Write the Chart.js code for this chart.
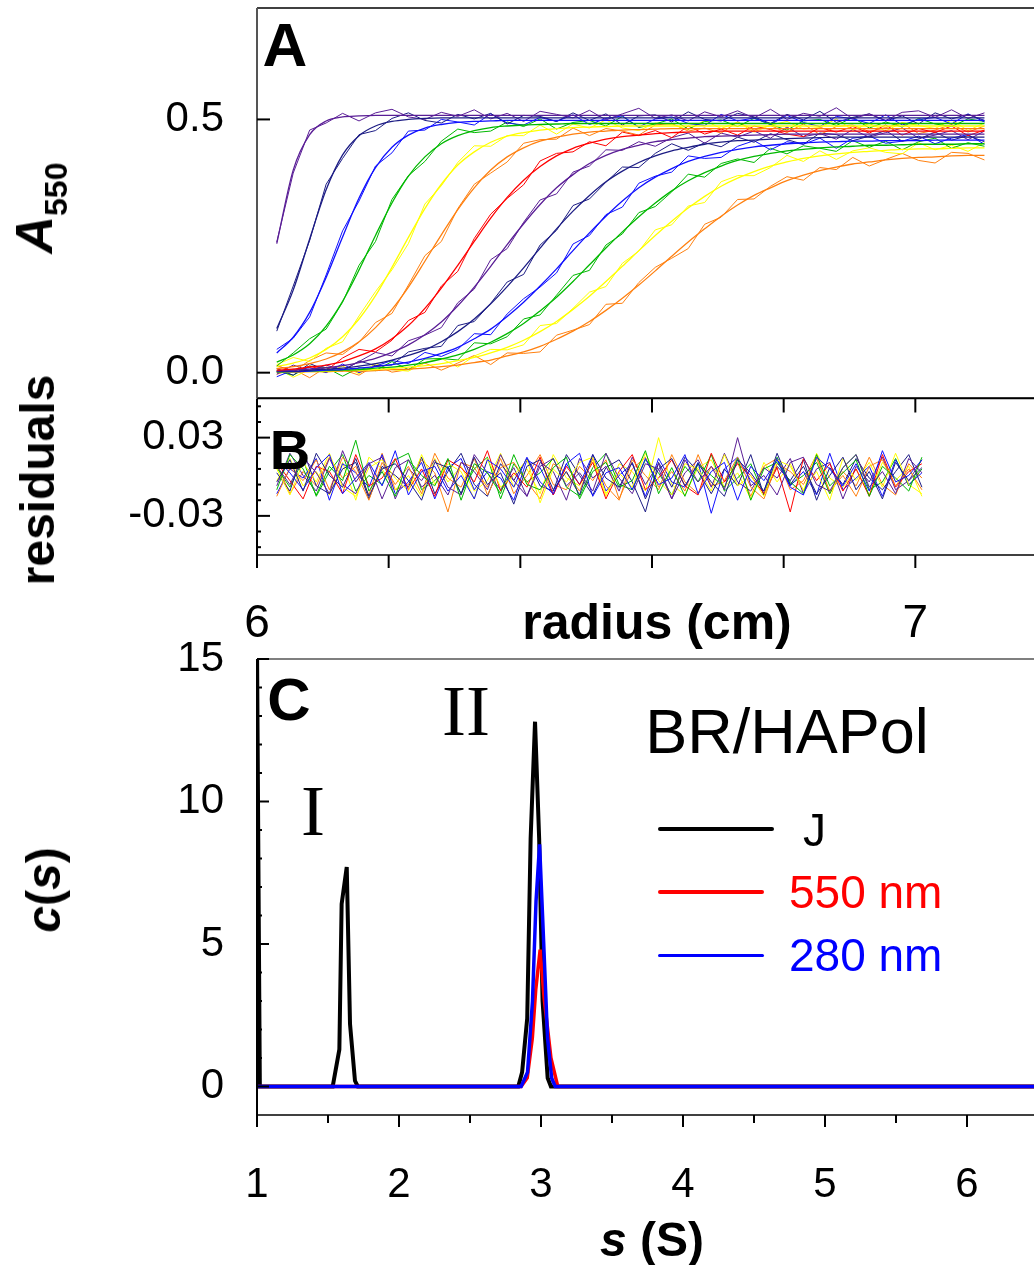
<!DOCTYPE html>
<html>
<head>
<meta charset="utf-8">
<script src="https://cdn.jsdelivr.net/npm/chart.js@4.4.1/dist/chart.umd.min.js"></script>
<style>
  html, body { margin: 0; padding: 0; background: #fff; }
  body { width: 1034px; height: 1265px; overflow: hidden; position: relative; font-family: "Liberation Sans", Arial, sans-serif; }
  canvas { position: absolute; left: 0; }
  .t { position: absolute; transform: translate(-50%, -50%); line-height: 1; white-space: nowrap; color: #000; }
  .rot { transform: translate(-50%, -50%) rotate(-90deg); }
  .l { position: absolute; transform: translate(0, -50%); line-height: 1; white-space: nowrap; font-size: 46px; }
  .lg { position: absolute; border-radius: 2px; }
  .serif { font-family: "Liberation Serif", "Times New Roman", serif; font-size: 72px; }
</style>
</head>
<body>
<canvas id="chartA" width="1047" height="400" style="top:0"></canvas>
<canvas id="chartB" width="1047" height="300" style="top:380px"></canvas>
<canvas id="chartC" width="1038" height="625" style="top:640px"></canvas>

<div class="t" style="left:285px;top:45px;font-weight:bold;font-size:62px">A</div>
<div class="t" style="left:290px;top:450px;font-weight:bold;font-size:56px">B</div>
<div class="t" style="left:289px;top:700px;font-weight:bold;font-size:60px">C</div>
<div class="t rot" style="left:40px;top:208px;font-weight:bold"><i style="font-size:52px">A</i><span style="font-size:32px;vertical-align:-15px">550</span></div>
<div class="t rot" style="left:38px;top:480px;font-weight:bold;font-size:48px">residuals</div>
<div class="t rot" style="left:44px;top:890px;font-weight:bold;font-size:48px"><i>c</i>(<i>s</i>)</div>
<div class="t" style="left:657px;top:622px;font-weight:bold;font-size:50px">radius (cm)</div>
<div class="t" style="left:652px;top:1240px;font-weight:bold;font-size:48px"><i>s</i> (S)</div>
<div class="t" style="left:787px;top:731px;font-size:63px">BR/HAPol</div>
<div class="t serif" style="left:313px;top:811px">I</div>
<div class="t serif" style="left:466px;top:711px">II</div>

<div class="lg" style="left:658px;top:827px;width:116px;height:4px;background:#000"></div>
<div class="l" style="left:803px;top:830px;color:#000">J</div>
<div class="lg" style="left:658px;top:890px;width:106px;height:4px;background:#ff0000"></div>
<div class="l" style="left:789px;top:892px;color:#ff0000">550 nm</div>
<div class="lg" style="left:658px;top:954px;width:106px;height:3px;background:#0000ff"></div>
<div class="l" style="left:789px;top:955px;color:#0000ff">280 nm</div>

<script>
// radius grid of the scans (cm)
const radius = [6.030, 6.055, 6.080, 6.105, 6.130, 6.155, 6.180, 6.205, 6.230, 6.255,
  6.280, 6.305, 6.330, 6.355, 6.380, 6.405, 6.430, 6.455, 6.480, 6.505,
  6.530, 6.555, 6.580, 6.605, 6.630, 6.655, 6.680, 6.705, 6.730, 6.755,
  6.780, 6.805, 6.830, 6.855, 6.880, 6.905, 6.930, 6.955, 6.980, 7.005,
  7.030, 7.055, 7.080, 7.105]

// fitted boundaries, A550
const fit01 = [.255,.400,.470,.497,.505,.507,.508,.508,.508,.508,.508,.508,.508,.508,.508,.508,.508,.508,.508,.508,.508,.508,.508,.508,.508,.508,.508,.508,.508,.508,.508,.508,.508,.508,.508,.508,.508,.508,.508,.508,.508,.508,.508,.508]
const fit02 = [.087,.163,.264,.361,.430,.468,.487,.496,.500,.502,.503,.503,.503,.503,.503,.503,.503,.503,.503,.503,.503,.503,.503,.503,.503,.503,.503,.503,.503,.503,.503,.503,.503,.503,.503,.503,.503,.503,.503,.503,.503,.503,.503,.503]
const fit03 = [.039,.070,.119,.188,.268,.345,.405,.445,.469,.483,.490,.494,.496,.497,.498,.498,.498,.498,.498,.498,.498,.498,.498,.498,.498,.498,.498,.498,.498,.498,.498,.498,.498,.498,.498,.498,.498,.498,.498,.498,.498,.498,.498,.498]
const fit04 = [.021,.035,.057,.092,.141,.203,.271,.335,.388,.426,.452,.468,.478,.484,.487,.489,.490,.491,.492,.492,.492,.492,.492,.492,.492,.492,.492,.492,.492,.492,.492,.492,.492,.492,.492,.492,.492,.492,.492,.492,.492,.492,.492,.492]
const fit05 = [.012,.019,.029,.046,.071,.106,.152,.208,.267,.324,.372,.410,.436,.455,.467,.474,.479,.482,.484,.485,.486,.487,.487,.487,.487,.487,.487,.487,.487,.487,.487,.487,.487,.487,.487,.487,.487,.487,.487,.487,.487,.487,.487,.487]
const fit06 = [.008,.012,.018,.027,.041,.061,.089,.125,.169,.220,.272,.322,.365,.400,.426,.444,.457,.465,.471,.475,.477,.479,.480,.481,.482,.482,.482,.482,.482,.482,.482,.482,.482,.482,.482,.482,.482,.482,.482,.482,.482,.482,.482,.482]
const fit07 = [.005,.007,.011,.015,.022,.033,.047,.067,.093,.127,.167,.212,.259,.305,.346,.380,.407,.428,.443,.453,.461,.466,.469,.472,.474,.475,.476,.477,.477,.477,.477,.477,.477,.477,.477,.477,.477,.477,.477,.477,.477,.477,.477,.477]
const fit08 = [.003,.005,.007,.010,.014,.020,.028,.040,.055,.075,.100,.132,.169,.210,.253,.294,.332,.365,.391,.413,.429,.441,.449,.456,.460,.463,.466,.467,.468,.469,.470,.471,.471,.471,.471,.471,.471,.471,.471,.471,.471,.471,.471,.471]
const fit09 = [.003,.003,.005,.007,.009,.013,.018,.025,.034,.045,.061,.081,.106,.136,.170,.207,.246,.284,.319,.350,.377,.398,.415,.428,.438,.445,.451,.455,.458,.459,.461,.462,.463,.464,.465,.465,.465,.465,.465,.465,.465,.465,.465,.465]
const fit10 = [.002,.002,.003,.005,.006,.009,.012,.016,.021,.028,.038,.050,.067,.086,.111,.139,.171,.205,.241,.276,.309,.339,.365,.386,.403,.417,.427,.435,.441,.446,.449,.452,.454,.455,.456,.457,.457,.458,.458,.458,.459,.459,.459,.459]
const fit11 = [.001,.002,.003,.004,.005,.006,.009,.011,.015,.020,.027,.035,.046,.060,.077,.097,.122,.149,.180,.213,.246,.278,.308,.335,.359,.379,.395,.408,.419,.427,.433,.438,.441,.444,.446,.447,.449,.449,.450,.451,.451,.451,.452,.452]
const fit12 = [.001,.002,.002,.003,.004,.005,.006,.008,.011,.014,.018,.024,.030,.039,.050,.064,.081,.101,.125,.151,.180,.210,.241,.271,.299,.325,.348,.368,.384,.397,.408,.416,.423,.428,.432,.435,.437,.439,.441,.442,.442,.443,.444,.444]
const fit13 = [.001,.001,.002,.002,.003,.003,.004,.006,.007,.009,.012,.015,.020,.025,.033,.041,.052,.066,.082,.101,.123,.147,.173,.201,.230,.258,.284,.309,.331,.350,.365,.379,.390,.399,.406,.412,.416,.420,.423,.425,.426,.428,.429,.429]

// measured scans, A550
const scan01 = [.258,.394,.479,.493,.512,.497,.513,.520,.505,.500,.514,.506,.519,.501,.512,.496,.516,.510,.503,.518,.499,.511,.522,.502,.509,.497,.515,.505,.517,.503,.520,.500,.512,.506,.523,.501,.511,.498,.514,.517,.504,.519,.502,.513]
const scan02 = [.082,.171,.261,.372,.423,.470,.478,.502,.513,.498,.493,.510,.501,.512,.491,.508,.506,.496,.513,.498,.511,.489,.507,.509,.495,.515,.500,.497,.512,.505,.492,.510,.499,.516,.494,.504,.511,.497,.507,.491,.513,.501,.510,.498]
const scan03 = [.046,.068,.110,.193,.280,.339,.408,.434,.477,.479,.500,.495,.489,.511,.493,.489,.504,.496,.509,.490,.502,.507,.485,.501,.505,.492,.488,.510,.497,.503,.490,.508,.494,.486,.506,.501,.492,.509,.489,.500,.504,.491,.511,.495]
const scan04 = [.013,.039,.067,.086,.139,.212,.259,.342,.389,.417,.457,.481,.474,.477,.495,.486,.501,.481,.494,.498,.487,.506,.484,.491,.501,.481,.496,.499,.486,.502,.490,.479,.497,.500,.488,.504,.483,.495,.485,.502,.491,.486,.501,.496]
const scan05 = [.016,.030,.022,.048,.061,.112,.160,.203,.255,.333,.369,.415,.448,.447,.468,.468,.489,.471,.491,.483,.499,.483,.478,.493,.490,.480,.498,.482,.495,.475,.489,.496,.481,.484,.501,.479,.492,.477,.494,.488,.482,.499,.478,.493]
const scan06 = [.005,.003,.024,.039,.036,.060,.099,.117,.173,.231,.259,.324,.372,.394,.416,.453,.460,.461,.483,.468,.482,.477,.469,.489,.492,.477,.483,.473,.495,.479,.488,.474,.491,.470,.486,.489,.476,.484,.493,.472,.479,.490,.475,.487]
const scan07 = [.014,.003,.013,.004,.029,.046,.041,.064,.103,.119,.171,.200,.265,.313,.344,.371,.418,.433,.436,.456,.448,.475,.468,.478,.464,.487,.471,.481,.469,.487,.480,.471,.466,.484,.475,.486,.473,.489,.469,.482,.474,.487,.468,.479]
const scan08 = [-.003,.015,.004,.015,.005,.022,.040,.033,.063,.074,.089,.138,.165,.223,.245,.297,.341,.353,.396,.408,.440,.439,.456,.447,.464,.473,.453,.473,.465,.477,.463,.485,.466,.472,.461,.480,.465,.474,.483,.463,.469,.478,.460,.477]
const scan09 = [.008,-.005,.018,.005,.003,.023,.014,.015,.041,.048,.052,.093,.101,.137,.179,.194,.252,.281,.330,.343,.376,.406,.405,.433,.452,.439,.454,.446,.465,.455,.472,.460,.451,.473,.470,.458,.467,.478,.457,.461,.475,.459,.468,.456]
const scan10 = [-.008,.005,.010,.000,.017,.000,.013,.024,.018,.040,.032,.046,.077,.075,.116,.146,.169,.197,.254,.271,.312,.327,.374,.388,.396,.428,.423,.425,.447,.458,.440,.456,.451,.463,.443,.463,.467,.453,.457,.467,.452,.463,.470,.451]
const scan11 = [.003,-.005,.013,.010,-.007,.010,.004,.022,.006,.027,.028,.025,.059,.057,.071,.106,.114,.153,.192,.202,.252,.274,.316,.328,.357,.392,.386,.413,.422,.415,.443,.432,.448,.443,.437,.458,.445,.457,.440,.456,.463,.443,.454,.447]
const scan12 = [.009,-.009,.006,.000,.013,-.002,.018,.006,.003,.020,.028,.011,.033,.046,.045,.055,.093,.097,.127,.159,.170,.216,.240,.282,.292,.329,.336,.377,.389,.389,.405,.429,.417,.438,.421,.438,.444,.435,.432,.454,.440,.449,.437,.454]
const scan13 = [-.003,.007,-.010,.011,.006,-.005,.015,.001,.006,.019,.005,.019,.034,.016,.039,.038,.041,.074,.084,.095,.135,.137,.178,.208,.226,.245,.293,.307,.342,.343,.368,.387,.380,.405,.401,.425,.408,.421,.433,.419,.414,.435,.433,.420]

// residual grid (cm) and residuals in units of 0.001
const residRadius = [6.03,6.05,6.07,6.09,6.11,6.13,6.15,6.17,6.19,6.21,
  6.23,6.25,6.27,6.29,6.31,6.33,6.35,6.37,6.39,6.41,
  6.43,6.45,6.47,6.49,6.51,6.53,6.55,6.57,6.59,6.61,
  6.63,6.65,6.67,6.69,6.71,6.73,6.75,6.77,6.79,6.81,
  6.83,6.85,6.87,6.89,6.91,6.93,6.95,6.97,6.99,7.01]
const resid01 = [8,-6,15,3,-13,20,-4,10,-17,7,13,-8,1,-14,11,4,-10,17,-3,-15,8,14,-7,3,-11,18,-1,-13,10,6,-17,13,-4,8,-10,30,-7,1,-14,11,15,-6,-11,7,17,-8,4,-13,14,3]
const resid02 = [-4,13,-11,18,1,-8,14,-15,6,10,-3,-18,11,7,-13,15,-6,3,-21,8,13,-10,4,-14,17,-1,-8,11,-17,6,14,-7,10,-4,-15,13,3,-11,18,-6,8,-13,1,15,-10,4,-17,11,-3,7]
const resid03 = [14,3,-10,7,17,-13,-1,11,-7,20,-14,4,8,-11,1,-17,13,6,-8,15,-4,-13,10,18,-15,3,7,-10,14,-6,-1,17,-13,4,11,-18,8,-3,13,-8,-14,15,6,-7,10,-11,20,-4,1,13]
const resid04 = [-10,17,6,-14,8,-3,28,-11,4,-15,13,1,-7,14,-18,10,3,-13,17,-6,-10,7,15,-17,4,11,-8,-3,20,-13,7,-15,10,1,-8,14,-18,6,11,-4,-13,17,-7,3,13,-15,8,-1,-11,15]
const resid05 = [6,-14,11,-4,18,-8,-15,7,13,-1,-11,17,-6,10,4,-17,14,-8,1,13,-20,6,-4,11,15,-13,3,-8,18,-3,-14,10,6,-11,17,-7,1,-15,13,8,-10,4,-18,14,-3,11,-8,18,-6,-13]
const resid06 = [-15,7,-3,13,-10,15,4,-18,11,-6,8,-13,18,-1,-8,14,-14,7,11,-4,-17,10,3,-11,14,-7,-18,13,1,-10,17,-4,-13,8,-3,15,-8,-17,10,4,-6,14,-11,1,-15,8,13,-7,6,-10]
const resid07 = [11,-3,-17,8,4,-13,17,-7,-1,14,-10,6,-15,13,7,-4,20,-11,3,-8,15,-14,8,-6,11,-17,4,17,-10,-1,13,-7,-14,18,-4,10,1,-13,7,-27,14,-3,10,-11,6,-15,17,-8,4,10]
const resid08 = [-7,18,1,-11,14,-6,-13,10,15,-17,6,-3,13,-8,-14,17,3,-10,7,-15,11,4,-18,14,-1,8,-11,15,-6,10,-17,3,13,-8,18,-4,-11,7,-1,14,-13,6,11,-17,8,-4,15,-10,-3,13]
const resid09 = [3,-11,20,-7,-13,6,11,-17,8,1,-8,15,-13,4,18,-6,-15,10,-3,14,-7,-11,17,1,-14,7,13,-4,-27,11,-8,15,4,-13,6,-7,17,-14,8,-3,13,-18,7,-6,14,-1,-10,4,17,-8]
const resid10 = [-13,6,-1,14,-18,10,3,-8,17,-13,-4,11,-17,7,14,-10,4,-1,-18,13,7,-14,10,-6,17,-11,1,10,-15,14,-4,-8,11,-28,6,15,-3,-11,14,-7,4,-14,18,-10,-1,8,-15,13,-6,3]
const resid11 = [7,-8,13,-15,4,17,-11,1,-6,13,18,-10,-3,8,-13,6,15,-17,10,-4,3,14,-8,-15,7,18,-6,-10,13,3,-14,8,-4,17,-11,-1,10,-14,15,-6,1,11,-13,7,17,-10,-4,14,-7,6]
const resid12 = [-3,14,-7,4,-14,11,-18,15,6,-10,1,-15,14,-4,8,-11,-3,18,-8,6,-13,17,-1,-7,13,-15,10,4,-11,30,-6,-14,7,13,-8,3,-17,11,-4,10,-11,18,-1,-8,6,-14,11,-3,8,-15]
const resid13 = [10,-13,4,-7,15,-1,8,-14,18,-10,-6,13,3,-27,11,7,-8,14,-13,1,17,-6,-10,8,-3,13,-17,6,15,-8,4,-11,17,-7,-4,11,-15,8,14,-10,-3,17,-13,4,-7,15,-6,-14,10,-1]

// c(s) distributions
const sJ = [1.0, 1.02, 1.533, 1.58, 1.596, 1.632, 1.655, 1.69, 1.71, 2.84, 2.867, 2.903, 2.927, 2.958, 2.987, 3.011, 3.047, 3.07, 6.5]
const cJ = [15.5, 0, 0, 1.3, 6.4, 7.7, 2.2, 0.2, 0, 0, 0.5, 2.4, 8.7, 12.8, 8.7, 3.0, 0.3, 0, 0]
const s550 = [1.0, 2.86, 2.903, 2.939, 2.963, 2.994, 3.022, 3.07, 3.118, 6.5]
const c550 = [0, 0, 0.3, 1.7, 3.4, 4.8, 3.1, 1.0, 0, 0]
const s280 = [1.0, 2.86, 2.905, 2.94, 2.965, 2.99, 3.011, 3.046, 3.075, 3.1, 6.5]
const c280 = [0, 0, 0.5, 3.0, 6.5, 8.5, 6.0, 1.7, 0.3, 0, 0]

// ticks
const absTicks = [0.0, 0.5]
const residTicks = [-0.03, 0.03]
const residMinor = [-0.054, -0.042, -0.018, -0.006, 0.006, 0.018, 0.042, 0.054]
const radiusLabels = [6, 7]
const radiusTicks = [6.0, 6.2, 6.4, 6.6, 6.8, 7.0]
const cTicks = [0, 5, 10, 15]
const cMinor = [1, 2, 3, 4, 6, 7, 8, 9, 11, 12, 13, 14]
const sTicks = [1, 2, 3, 4, 5, 6]
const sMinor = [1.5, 2.5, 3.5, 4.5, 5.5, 6.5]

const scanColors = ["#5a1e96", "#1c1c84", "#1010ff", "#00b800", "#ffff00", "#ff8010", "#ff0000",
  "#5a1e96", "#1c1c84", "#1010ff", "#00b800", "#ffff00", "#ff8010"]

const fits = [fit01, fit02, fit03, fit04, fit05, fit06, fit07, fit08, fit09, fit10, fit11, fit12, fit13]
const scans = [scan01, scan02, scan03, scan04, scan05, scan06, scan07, scan08, scan09, scan10, scan11, scan12, scan13]
const resids = [resid01, resid02, resid03, resid04, resid05, resid06, resid07, resid08, resid09, resid10, resid11, resid12, resid13]

Chart.defaults.font.family = "'Liberation Sans', Arial, sans-serif"
Chart.defaults.color = "#000"

function series(xs, ys, color, width, extra) {
  return Object.assign({
    data: xs.map((x, i) => ({ x: x, y: ys[i] })),
    borderColor: color,
    borderWidth: width,
    pointRadius: 0,
    fill: false,
    tension: 0
  }, extra || {})
}

function framePlugin(draw) {
  return {
    id: "frame",
    afterDraw(chart) {
      const { ctx, chartArea, scales } = chart
      const line = (x1, y1, x2, y2, w, c) => {
        ctx.beginPath()
        ctx.lineWidth = w
        ctx.strokeStyle = c || "#000"
        ctx.moveTo(x1, y1)
        ctx.lineTo(x2, y2)
        ctx.stroke()
      }
      ctx.save()
      draw(line, chartArea, scales.x, scales.y)
      ctx.restore()
    }
  }
}

// no label overhang padding, so the plot box sits exactly where the layout says
function noPad(s) {
  s.paddingTop = 0
  s.paddingBottom = 0
  s.paddingLeft = 0
  s.paddingRight = 0
}

function yAxis(min, max, ticks, fmt, size) {
  return {
    min: min,
    max: max,
    afterFit: s => { s.width = 257; noPad(s) },
    afterBuildTicks: s => { s.ticks = ticks.map(v => ({ value: v })) },
    grid: { display: false },
    border: { display: false },
    ticks: { padding: 25, font: { size: size }, color: "#000", callback: fmt }
  }
}

function xAxis(min, max, ticks, height, pad, size) {
  return {
    type: "linear",
    min: min,
    max: max,
    afterFit: s => { s.height = height; noPad(s) },
    afterBuildTicks: s => { s.ticks = ticks.map(v => ({ value: v })) },
    grid: { display: false },
    border: { display: false },
    ticks: { padding: pad, font: { size: size }, color: "#000", maxRotation: 0, autoSkip: false, callback: v => String(v) }
  }
}

const common = {
  responsive: false,
  animation: false,
  events: [],
  devicePixelRatio: 1,
  plugins: { legend: { display: false }, tooltip: { enabled: false } }
}

// panel A
const dataA = []
scans.forEach((ys, k) => dataA.push(series(radius, ys, scanColors[k], 1, { order: 1 })))
fits.forEach((ys, k) => dataA.push(series(radius, ys, scanColors[k], 1.3, { order: 0, cubicInterpolationMode: "monotone" })))

new Chart(document.getElementById("chartA"), {
  type: "line",
  data: { datasets: dataA },
  options: Object.assign({}, common, {
    layout: { padding: { top: 8, bottom: 2, left: 0, right: 0 }, autoPadding: false },
    scales: {
      x: { type: "linear", min: 6, max: 7.2, display: false },
      y: yAxis(-0.05, 0.72, absTicks, v => v.toFixed(1), 42)
    }
  }),
  plugins: [framePlugin((line, a, x, y) => {
    line(a.left, a.top, a.right, a.top, 1.5)
    line(a.left, a.bottom, a.right, a.bottom, 1.5)
    line(a.left, a.top, a.left, a.bottom, 2, "#555")
    absTicks.forEach(v => {
      const py = y.getPixelForValue(v)
      line(a.left, py, a.left + 13, py, 2)
    })
  })]
})

// panel B
new Chart(document.getElementById("chartB"), {
  type: "line",
  data: { datasets: resids.map((r, k) => series(residRadius, r.map(v => v / 1000), scanColors[k], 1)) },
  options: Object.assign({}, common, {
    layout: { padding: { top: 18.5, bottom: 0, left: 0, right: 0 }, autoPadding: false },
    scales: {
      x: xAxis(6, 7.2, radiusLabels, 125, 34, 46),
      y: yAxis(-0.06, 0.06, residTicks, v => v.toFixed(2), 42)
    }
  }),
  plugins: [framePlugin((line, a, x, y) => {
    line(a.left, a.top, a.right, a.top, 1.5)
    line(a.left, a.bottom, a.right, a.bottom, 1.5)
    line(a.left, a.top, a.left, a.bottom, 2)
    residTicks.forEach(v => {
      const py = y.getPixelForValue(v)
      line(a.left, py, a.left + 13, py, 2)
    })
    residMinor.forEach(v => {
      const py = y.getPixelForValue(v)
      line(a.left, py, a.left + 4, py, 2)
    })
    radiusTicks.forEach(v => {
      const px = x.getPixelForValue(v)
      if (v > 6) line(px, a.top, px, a.top + 14, 2)
      line(px, a.bottom, px, a.bottom + 13, 2)
    })
  })]
})

// panel C
new Chart(document.getElementById("chartC"), {
  type: "line",
  data: {
    datasets: [
      series(sJ, cJ, "#000000", 4, { order: 3 }),
      series(s550, c550, "#ff0000", 3.5, { order: 2 }),
      series(s280, c280, "#0000ff", 3.5, { order: 1 })
    ]
  },
  options: Object.assign({}, common, {
    layout: { padding: { top: 19, bottom: 0, left: 0, right: 0 }, autoPadding: false },
    scales: {
      x: xAxis(1, 6.5, sTicks, 150, 37, 42),
      y: yAxis(-1, 15, cTicks, v => String(v), 42)
    }
  }),
  plugins: [framePlugin((line, a, x, y) => {
    line(a.left, a.top, a.right, a.top, 1.2)
    line(a.left, a.bottom, a.right, a.bottom, 1.5)
    line(a.left, a.top, a.left, a.bottom, 2)
    cTicks.forEach(v => {
      const py = y.getPixelForValue(v)
      line(a.left, py, a.left + 12, py, 2)
    })
    cMinor.forEach(v => {
      const py = y.getPixelForValue(v)
      line(a.left, py, a.left + 5, py, 2)
    })
    sTicks.forEach(v => {
      const px = x.getPixelForValue(v)
      line(px, a.bottom, px, a.bottom + 12, 2)
    })
    sMinor.forEach(v => {
      const px = x.getPixelForValue(v)
      line(px, a.bottom, px, a.bottom + 8, 2)
    })
  })]
})
</script>
</body>
</html>
